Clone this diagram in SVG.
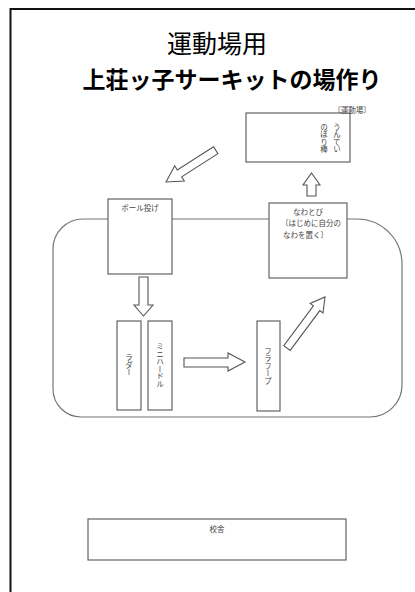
<svg xmlns="http://www.w3.org/2000/svg" width="415" height="592" viewBox="0 0 415 592">
<style>
.box{fill:#fff;stroke:#555;stroke-width:1.1}
.arr{fill:#fff;stroke:#555;stroke-width:1.1;stroke-linejoin:miter}
.t{font-family:"Noto Sans CJK JP","Noto Sans",sans-serif;font-size:7.5px;fill:#444}
.v{writing-mode:vertical-rl;text-anchor:middle}
.title{font-family:"Noto Sans CJK JP","Noto Sans",sans-serif;fill:#000;text-anchor:middle}
</style>
<rect x="0" y="0" width="415" height="592" fill="#fff"/>
<rect x="10.5" y="9" width="430" height="600" fill="none" stroke="#111" stroke-width="2"/>
<text class="title" x="217" y="53" font-size="25">運動場用</text>
<text class="title" x="232" y="88" font-size="23" font-weight="bold">上荘ッ子サーキットの場作り</text>
<g id="track">
<path d="M83,219 H357 A45,45 0 0 1 402,264 V385 A32,32 0 0 1 370,417 H81 A28,28 0 0 1 53,389 V249 A30,30 0 0 1 83,219 Z" fill="none" stroke="#777" stroke-width="1.2"/>
</g>
<g id="connectors">
<polygon class="arr" points="166,182 174.7,165.8 177.3,170 213.5,146.8 217.9,153.6 181.7,176.8 184.3,181"/>
<polygon class="arr" points="311.5,173 320,185 316,185 316,196 307,196 307,185 303,185"/>
<polygon class="arr" points="139,277 148,277 148,305 153,305 143.5,316 134,305 139,305"/>
<polygon class="arr" points="184,358 228,358 228,353 245,362 228,371 228,367 184,367"/>
<polygon class="arr" points="325,297 323,313 319.8,310.6 290.2,350.4 283.8,345.6 313.4,305.8 310.2,303.4"/>
</g>
<g id="noboribo">
<rect class="box" x="246" y="113" width="104" height="49"/>
<text class="t" x="352" y="113" text-anchor="middle" font-size="6.5">〔運動場〕</text>
<text class="t v" x="337" y="138">うんてい</text>
<text class="t v" x="324" y="138">のぼり棒</text>
</g>
<g id="ballnage">
<rect class="box" x="108" y="199" width="64" height="75"/>
<text class="t" x="140" y="211" text-anchor="middle">ボール投げ</text>
</g>
<g id="nawatobi">
<rect class="box" x="269" y="203" width="78" height="75"/>
<text class="t" x="308" y="215" text-anchor="middle">なわとび</text>
<text class="t" x="281" y="226">〔はじめに自分の</text>
<text class="t" x="283" y="238">なわを置く〕</text>
</g>
<g id="ladder">
<rect class="box" x="117" y="321" width="24" height="89"/>
<text class="t v" x="129" y="365">ラダー</text>
</g>
<g id="minihurdle">
<rect class="box" x="148" y="321" width="24" height="89"/>
<text class="t v" x="160" y="365">ミニハードル</text>
</g>
<g id="hulahoop">
<rect class="box" x="257" y="321" width="23" height="90"/>
<text class="t v" x="268" y="366">フラフープ</text>
</g>
<g id="kousha">
<rect class="box" x="88" y="519" width="258" height="41" stroke="#333"/>
<text class="t" x="217" y="532" text-anchor="middle">校舎</text>
</g>
</svg>
